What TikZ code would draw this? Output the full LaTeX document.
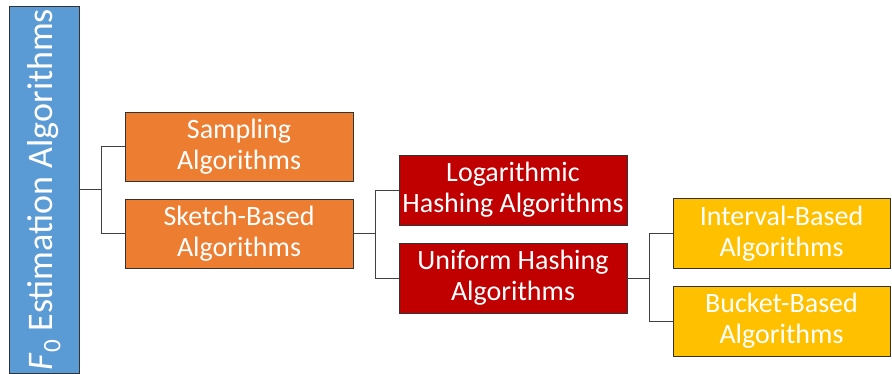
\documentclass[tikz,border=0pt]{standalone}
\usepackage{fontspec}
\setmainfont{Carlito}
\definecolor{rootblue}{HTML}{5B9BD5}
\definecolor{lvlorange}{HTML}{ED7D31}
\definecolor{lvlred}{HTML}{C00000}
\definecolor{lvlyellow}{HTML}{FFC000}
\tikzset{
  algbox/.style={draw=black!80, line width=0.8pt, text=white, inner sep=0pt,
    align=center, minimum width=228pt, minimum height=70pt,
    font=\fontsize{28}{31}\selectfont},
  conn/.style={draw=black!75, line width=0.8pt}
}
\begin{document}
\begin{tikzpicture}[x=1pt, y=-1pt]
\useasboundingbox (0,0) rectangle (892,374);
\node[algbox, fill=rootblue, rotate=90, minimum width=367pt, font=\fontsize{36}{40}\selectfont] (root) at (44,189.5) {\textit{F}\textsubscript{0} Estimation Algorithms};
\node[algbox, fill=lvlorange, minimum height=69pt] (samp) at (239,146.5) {Sampling\\Algorithms};
\node[algbox, fill=lvlorange, minimum height=69pt] (sket) at (239,233.5) {Sketch-Based\\Algorithms};
\node[algbox, fill=lvlred] (loga) at (513,190) {Logarithmic\\Hashing Algorithms};
\node[algbox, fill=lvlred] (unif) at (513,278) {Uniform Hashing\\Algorithms};
\node[algbox, fill=lvlyellow, minimum width=217pt] (intv) at (781.5,233.5) {Interval-Based\\Algorithms};
\node[algbox, fill=lvlyellow, minimum width=217pt] (buck) at (781.5,321) {Bucket-Based\\Algorithms};
% tree connectors
\draw[conn] (samp.west) -- ++(-23,0) |- (root.south);
\draw[conn] (sket.west) -- ++(-23,0) |- (root.south);
\draw[conn] (loga.west) -- ++(-23,0) |- (sket.east);
\draw[conn] (unif.west) -- ++(-23,0) |- (sket.east);
\draw[conn] (intv.west) -- ++(-23,0) |- (unif.east);
\draw[conn] (buck.west) -- ++(-23,0) |- (unif.east);
\end{tikzpicture}
\end{document}
